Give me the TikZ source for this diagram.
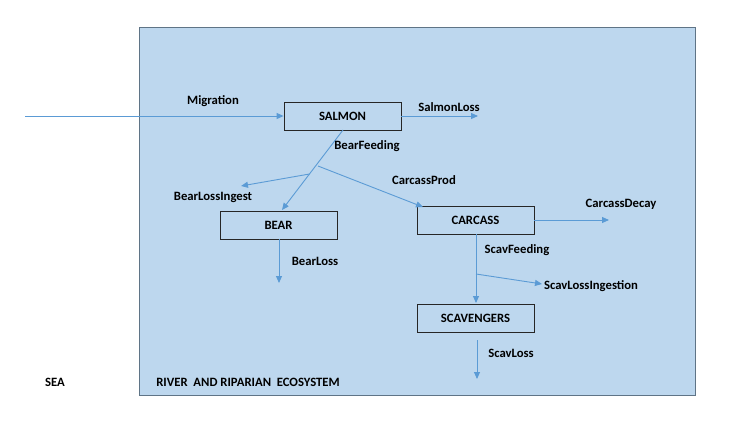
\documentclass[tikz,border=0pt]{standalone}
\usepackage{fontspec}
\setmainfont{Carlito}
\usetikzlibrary{arrows.meta}
\definecolor{bg}{HTML}{BDD7EE}
\definecolor{frame}{HTML}{5F7486}
\definecolor{flow}{HTML}{5B9BD5}
\newcommand{\dfont}{\fontsize{12.7}{15}\selectfont\bfseries}
\tikzset{
  flowarrow/.style={draw=flow, line width=0.9pt, -{Triangle[length=7pt,width=6pt]}},
  stockbox/.style={draw=black!85, line width=0.8pt, fill=bg, minimum width=117pt, minimum height=28pt, inner sep=0pt, font=\dfont},
  lbl/.style={font=\dfont, inner sep=0pt}
}
\begin{document}
\begin{tikzpicture}[x=1pt,y=-1pt]
\useasboundingbox (0,0) rectangle (733,423);
\fill[white] (0,0) rectangle (733,423);
\node[draw=frame, line width=0.8pt, fill=bg, minimum width=556pt, minimum height=368pt, inner sep=0pt, anchor=north west] (eco) at (139,27) {};

\node[stockbox] (salmon) at (342.5,116) {SALMON};
\node[stockbox] (bear) at (278.5,225) {BEAR};
\node[stockbox] (carcass) at (475.5,220) {CARCASS};
\node[stockbox] (scav) at (475.5,318) {SCAVENGERS};

\coordinate (src) at (25,116);
\coordinate (sloss) at (478,116);
\coordinate (bfstart) at (343,130);
\coordinate (bfend) at (282,210);
\coordinate (bli) at (309.5,174);
\coordinate (blisink) at (241,186);
\coordinate (cpstart) at (318,166);
\coordinate (cpend) at (423,207);
\coordinate (blsink) at (279,283);
\coordinate (cdsink) at (609,220);
\coordinate (sfend) at (476,303);
\coordinate (sli) at (476,274);
\coordinate (slisink) at (542,284);
\coordinate (slstart) at (477,340);
\coordinate (slsink) at (477,379);

\draw[flowarrow] (src) -- (salmon.west);
\draw[flowarrow] (salmon.east) -- (sloss);
\draw[flowarrow] (bfstart) -- (bfend);
\draw[flowarrow] (bli) -- (blisink);
\draw[flowarrow] (cpstart) -- (cpend);
\draw[flowarrow] (bear.south -| blsink) -- (blsink);
\draw[flowarrow] (carcass.east) -- (cdsink);
\draw[flowarrow] (carcass.south -| sfend) -- (sfend);
\draw[flowarrow] (sli) -- (slisink);
\draw[flowarrow] (slstart) -- (slsink);

\node[lbl] (lmig) at (213,101) {Migration};
\node[lbl] (lsl) at (449,107) {SalmonLoss};
\node[lbl] (lbf) at (367,146) {BearFeeding};
\node[lbl] (lbli) at (213,197) {BearLossIngest};
\node[lbl] (lcp) at (424,180) {CarcassProd};
\node[lbl] (lbl) at (315,261) {BearLoss};
\node[lbl] (lcd) at (621,204) {CarcassDecay};
\node[lbl] (lsf) at (517,250) {ScavFeeding};
\node[lbl] (lsli) at (591,286) {ScavLossIngestion};
\node[lbl] (lslo) at (511,353) {ScavLoss};
\node[lbl] (lsea) at (55,382) {SEA};
\node[lbl] (leco) at (248,382) {RIVER\ \ AND RIPARIAN\ \ ECOSYSTEM};
\end{tikzpicture}
\end{document}
